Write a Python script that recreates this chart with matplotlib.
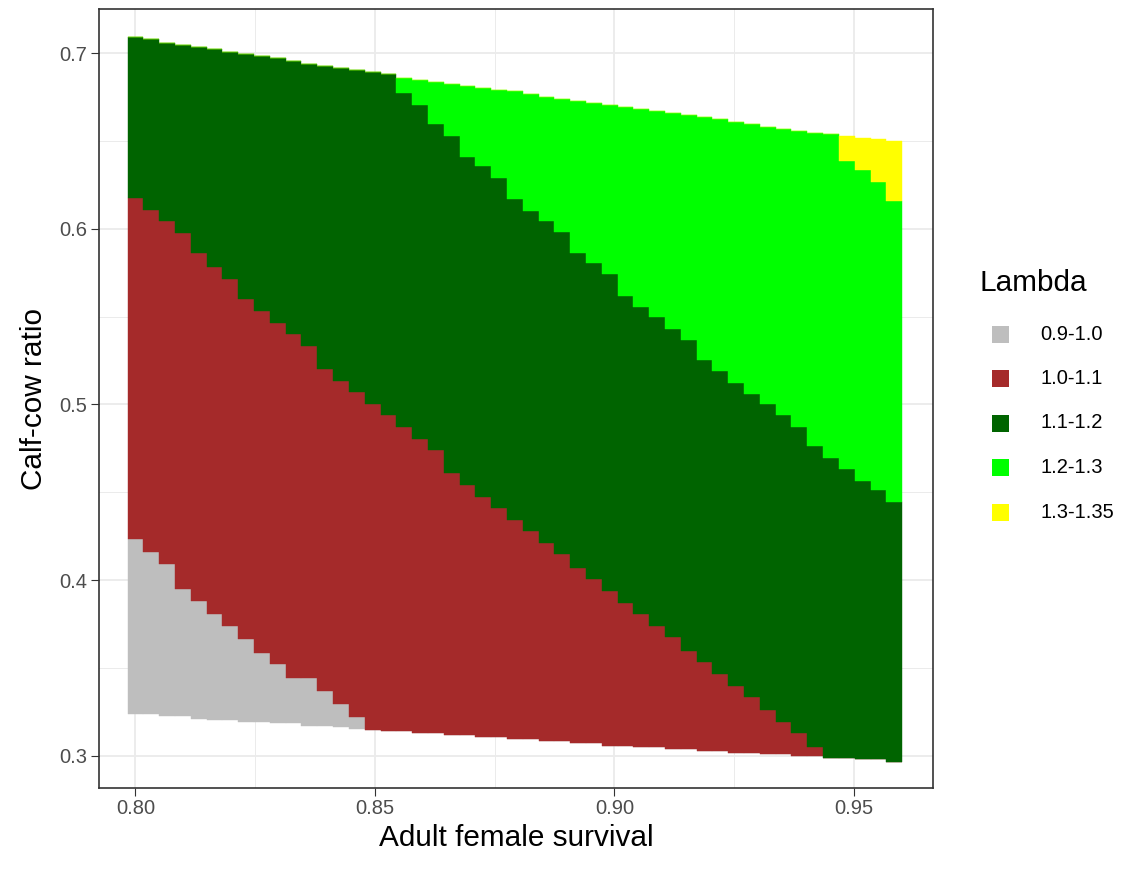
import numpy as np
import matplotlib
matplotlib.use("Agg")
import matplotlib.pyplot as plt
from matplotlib.patches import Rectangle
from matplotlib.ticker import MultipleLocator

plt.rcParams['font.family'] = ['Liberation Sans', 'DejaVu Sans']

# adult female survival grid (tile centres)
survival = np.round(np.linspace(0.80, 0.9584, 49), 4)

# calf-cow ratio range covered in each survival column
ratio_top = [0.7089, 0.7078, 0.7059, 0.7047, 0.7036, 0.7021, 0.7004, 0.6993, 0.6981, 0.6970,
             0.6956, 0.6937, 0.6926, 0.6913, 0.6902, 0.6890, 0.6883, 0.6859, 0.6846, 0.6835,
             0.6824, 0.6814, 0.6803, 0.6792, 0.6782, 0.6767, 0.6752, 0.6740, 0.6729, 0.6716,
             0.6704, 0.6693, 0.6684, 0.6672, 0.6660, 0.6647, 0.6638, 0.6626, 0.6607, 0.6594,
             0.6581, 0.6569, 0.6558, 0.6547, 0.6537, 0.6528, 0.6518, 0.6509, 0.6498]
ratio_bottom = [0.3237, 0.3237, 0.3228, 0.3228, 0.3211, 0.3203, 0.3203, 0.3193, 0.3193, 0.3184,
                0.3184, 0.3171, 0.3171, 0.3162, 0.3152, 0.3148, 0.3139, 0.3139, 0.3127, 0.3127,
                0.3116, 0.3116, 0.3105, 0.3105, 0.3095, 0.3095, 0.3082, 0.3082, 0.3071, 0.3071,
                0.3057, 0.3057, 0.3048, 0.3048, 0.3038, 0.3038, 0.3028, 0.3028, 0.3017, 0.3017,
                0.3008, 0.3008, 0.2997, 0.2997, 0.2989, 0.2989, 0.2980, 0.2980, 0.2964]

# ratio where lambda crosses 1.0 (first 15 columns only)
cross_10 = [0.4233, 0.4157, 0.4092, 0.3949, 0.3882, 0.3805, 0.3740, 0.3664, 0.3586, 0.3520,
            0.3444, 0.3444, 0.3366, 0.3292, 0.3222]
# ratio where lambda crosses 1.1 (first 44 columns)
cross_11 = [0.6175, 0.6109, 0.6044, 0.5978, 0.5859, 0.5781, 0.5714, 0.5597, 0.5529, 0.5462,
            0.5398, 0.5331, 0.5199, 0.5132, 0.5068, 0.5003, 0.4939, 0.4870, 0.4805, 0.4739,
            0.4609, 0.4540, 0.4475, 0.4409, 0.4344, 0.4279, 0.4212, 0.4146, 0.4070, 0.4004,
            0.3937, 0.3871, 0.3805, 0.3738, 0.3674, 0.3597, 0.3531, 0.3465, 0.3398, 0.3334,
            0.3258, 0.3192, 0.3127, 0.3048]
# ratio where lambda crosses 1.2 (columns 17..48)
cross_12 = [0.6771, 0.6704, 0.6596, 0.6529, 0.6410, 0.6354, 0.6287, 0.6168, 0.6101, 0.6046,
            0.5980, 0.5860, 0.5803, 0.5741, 0.5617, 0.5553, 0.5498, 0.5431, 0.5365, 0.5255,
            0.5191, 0.5124, 0.5060, 0.5004, 0.4938, 0.4872, 0.4762, 0.4697, 0.4631, 0.4565,
            0.4510, 0.4443]
# ratio where lambda crosses 1.3 (columns 45..48)
cross_13 = [0.6387, 0.6333, 0.6266, 0.6158]

lambda_labels = ['0.9-1.0', '1.0-1.1', '1.1-1.2', '1.2-1.3', '1.3-1.35']
lambda_colors = ['#BEBEBE', '#A52A2A', '#006400', '#00FF00', '#FFFF00']

top = np.array(ratio_top)
bot = np.array(ratio_bottom)
n = len(survival)
e1 = bot.copy(); e1[:len(cross_10)] = cross_10
e2 = bot.copy(); e2[:len(cross_11)] = cross_11
e3 = top.copy(); e3[n - len(cross_12):] = cross_12
e4 = top.copy(); e4[n - len(cross_13):] = cross_13
edges = [bot, e1, e2, e3, e4, top]

W, H = 1142, 877
fig = plt.figure(figsize=(W / 100, H / 100), dpi=100)
ax = fig.add_axes([99 / W, 1 - 787.7 / H, (933.3 - 99) / W, (787.7 - 9.3) / H])

step = 0.0033
for k, col in enumerate(lambda_colors):
    h = edges[k + 1] - edges[k]
    ax.bar(survival, h, bottom=edges[k], width=step, color=col,
           edgecolor=col, linewidth=0.3, zorder=2)

ax.set_xlim(0.79238, 0.96656)
ax.set_ylim(0.28178, 0.72488)
ax.xaxis.set_major_locator(MultipleLocator(0.05))
ax.xaxis.set_minor_locator(MultipleLocator(0.025))
ax.yaxis.set_major_locator(MultipleLocator(0.1))
ax.yaxis.set_minor_locator(MultipleLocator(0.05))
ax.xaxis.set_major_formatter(matplotlib.ticker.FormatStrFormatter('%.2f'))
ax.yaxis.set_major_formatter(matplotlib.ticker.FormatStrFormatter('%.1f'))
ax.grid(which='major', color='#EBEBEB', linewidth=1.3, zorder=0)
ax.grid(which='minor', color='#EBEBEB', linewidth=0.7, zorder=0)
ax.set_axisbelow(True)
ax.tick_params(which='major', length=5.8, width=0.8, color='#333333',
               labelsize=14.5, labelcolor='#4D4D4D', pad=2.5)
ax.tick_params(which='minor', length=0)
for s in ax.spines.values():
    s.set_color('#333333')
    s.set_linewidth(1.2)

ax.set_xlabel('Adult female survival', fontsize=21.4, labelpad=4)
ax.set_ylabel('Calf-cow ratio', fontsize=21.4, labelpad=8)

# legend
fig.text(980 / W, 1 - 283 / H, 'Lambda', fontsize=21.4, va='center', ha='left')
for k, (lab, col) in enumerate(zip(lambda_labels, lambda_colors)):
    yc = 334 + 44.5 * k
    fig.add_artist(Rectangle((992.3 / W, 1 - (yc + 8.5) / H), 17 / W, 17 / H,
                             facecolor=col, edgecolor='none', transform=fig.transFigure))
    fig.text(1040 / W, 1 - yc / H, lab, fontsize=14.5, va='center', ha='left')

fig.savefig('out.png', dpi=100)
